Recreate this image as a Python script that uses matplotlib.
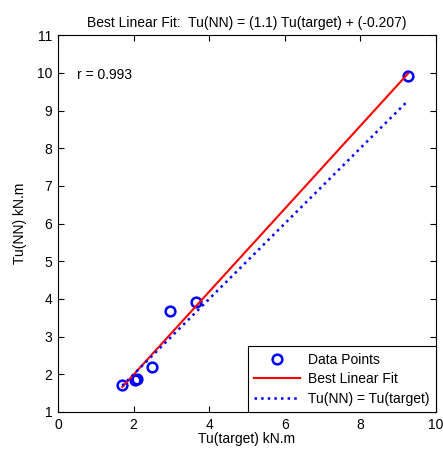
import numpy as np
import matplotlib
matplotlib.use("Agg")
import matplotlib.pyplot as plt

plt.rcParams['font.family'] = ['Liberation Sans', 'DejaVu Sans']

target = [1.70, 2.05, 2.10, 2.49, 2.96, 3.65, 9.26]
nn = [1.72, 1.85, 1.87, 2.19, 3.68, 3.92, 9.91]
slope = 1.1
intercept = -0.207
r_value = 0.993

fs = 10
fig = plt.figure(figsize=(4.43, 4.51), dpi=100)
ax = fig.add_axes([0.131, 0.0865, 0.853, 0.8355])

xmin, xmax = min(target), max(target)
xs = np.array([xmin, xmax])
ax.plot(target, nn, 'o', mfc='none', mec='blue', ms=7, mew=1.8, label='Data Points')
ax.plot(xs, slope * xs + intercept, '-', color='red', lw=1.5, label='Best Linear Fit')
ax.plot(xs, xs, ':', color='blue', lw=1.8, label='Tu(NN) = Tu(target)')

ax.set_xlim(0, 10)
ax.set_ylim(1, 11)
ax.set_xticks([0, 2, 4, 6, 8, 10])
ax.set_yticks(range(1, 12))
ax.tick_params(direction='in', top=True, right=True, labelsize=fs, length=4, pad=4)
for s in ax.spines.values():
    s.set_linewidth(0.8)

ax.text(0.5, 9.94, 'r = %.3f' % r_value, fontsize=fs, va='center', ha='left')
ax.set_title('Best Linear Fit:  Tu(NN) = (%.1f) Tu(target) + (%.3f)' % (slope, intercept), fontsize=fs, pad=6)
ax.set_xlabel('Tu(target) kN.m', fontsize=fs, labelpad=0)
ax.set_ylabel('Tu(NN) kN.m', fontsize=fs, labelpad=7)

leg = ax.legend(loc='lower right', fontsize=fs, fancybox=False, framealpha=1,
                edgecolor='black', borderaxespad=0, handlelength=3.3, borderpad=0.45,
                labelspacing=0.4, handletextpad=0.6)
leg.get_frame().set_linewidth(0.8)

fig.savefig('out.png', dpi=100)
